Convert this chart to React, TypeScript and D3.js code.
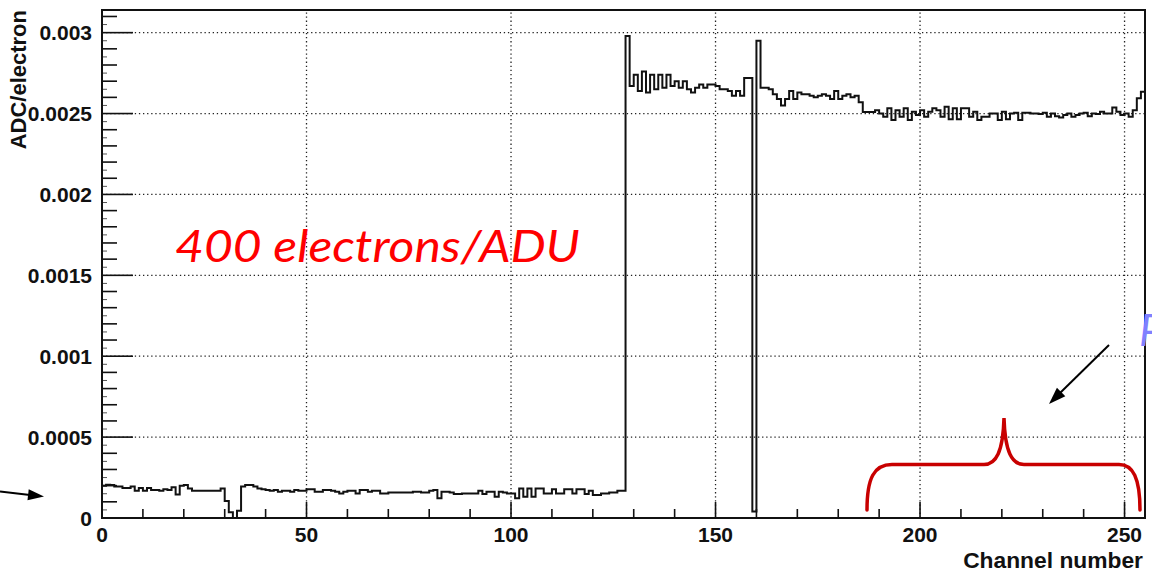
import React from "react";
import * as d3 from "d3";

const W = 1152;
const H = 577;

// Gain per readout channel (ADC counts per electron), one value per channel bin.
const lowGainCh000to063 = [
  0.0002, 0.000205, 0.000204, 0.000194, 0.000194, 0.000185, 0.000185, 0.000194,
  0.000168, 0.000185, 0.000168, 0.000185, 0.000173, 0.000173, 0.000168, 0.000178,
  0.000173, 0.00019, 0.000145, 0.0002, 0.000204, 0.000183, 0.000168, 0.000168,
  0.000168, 0.000168, 0.000168, 0.000168, 0.000168, 0.000183, 0.000105, 0.000035,
  0.0, 0.000045, 0.000194, 0.000204, 0.000204, 0.000194, 0.000183, 0.000178,
  0.000173, 0.000168, 0.000173, 0.000163, 0.000168, 0.000168, 0.000163, 0.000173,
  0.000168, 0.000169, 0.000177, 0.000177, 0.000163, 0.000163, 0.000173, 0.000173,
  0.000169, 0.000163, 0.000152, 0.000163, 0.000169, 0.000169, 0.000152, 0.000173,
];

const lowGainCh064to127 = [
  0.000173, 0.000163, 0.000169, 0.000169, 0.000152, 0.000152, 0.000157, 0.000157,
  0.000157, 0.000157, 0.000157, 0.000157, 0.000163, 0.000163, 0.000157, 0.000157,
  0.000169, 0.000173, 0.000122, 0.000163, 0.000163, 0.000157, 0.000148, 0.000148,
  0.000152, 0.000152, 0.000152, 0.000152, 0.000169, 0.000148, 0.000163, 0.000163,
  0.000132, 0.000163, 0.000157, 0.000152, 0.000152, 0.000122, 0.000183, 0.000132,
  0.000183, 0.000132, 0.000183, 0.000183, 0.000152, 0.000152, 0.000177, 0.000152,
  0.000152, 0.000177, 0.000177, 0.000152, 0.000177, 0.000177, 0.000148, 0.000169,
  0.000142, 0.000142, 0.000152, 0.000152, 0.000157, 0.000157, 0.000169, 0.000169,
];

const highGainCh128to191 = [
  0.00298, 0.00267, 0.00274, 0.00264, 0.00276, 0.00263, 0.00274, 0.00265,
  0.00274, 0.00266, 0.00274, 0.00267, 0.0027, 0.00266, 0.0027, 0.00265,
  0.00263, 0.00266, 0.00268, 0.00266, 0.00268, 0.00268, 0.00267, 0.00265,
  0.00265, 0.00264, 0.00261, 0.00264, 0.00261, 0.00272, 0.00272, 0.00004,
  0.00295, 0.00266, 0.00266, 0.00265, 0.00262, 0.00259, 0.00255, 0.00259,
  0.00264, 0.00259, 0.00263, 0.00262, 0.00262, 0.00261, 0.0026, 0.00261,
  0.00262, 0.00261, 0.00259, 0.00264, 0.00259, 0.00261, 0.00262, 0.0026,
  0.00261, 0.00257, 0.00251, 0.00251, 0.00251, 0.00252, 0.0025, 0.00248,
];

const highGainCh192to254 = [
  0.002532, 0.00246, 0.002521, 0.00248, 0.002532, 0.00246, 0.002511, 0.002491,
  0.002521, 0.00248, 0.002511, 0.002532, 0.002521, 0.00248, 0.002542, 0.002464,
  0.002532, 0.002464, 0.002532, 0.002532, 0.00248, 0.002511, 0.00246, 0.00248,
  0.00248, 0.002501, 0.002501, 0.00246, 0.002511, 0.002464, 0.002501, 0.002505,
  0.00246, 0.002505, 0.002505, 0.002501, 0.002501, 0.002497, 0.002505, 0.00248,
  0.002501, 0.002484, 0.002476, 0.002491, 0.002501, 0.00248, 0.002491, 0.002501,
  0.002505, 0.002484, 0.002501, 0.002497, 0.002511, 0.002501, 0.002501, 0.002538,
  0.002511, 0.002491, 0.002501, 0.00248, 0.002521, 0.002594, 0.002635,
];

const xMajorTicks = [0, 50, 100, 150, 200, 250];
const xTickLabels = ["0", "50", "100", "150", "200", "250"];
const yMajorTicks = [0, 0.0005, 0.001, 0.0015, 0.002, 0.0025, 0.003];
const yTickLabels = ["0", "0.0005", "0.001", "0.0015", "0.002", "0.0025", "0.003"];

const xTitle = "Channel number";
const yTitle = "ADC/electron";
const noteText = "400 electrons/ADU";

const axisFont = "'Liberation Sans', Arial, Helvetica, sans-serif";

export default function App() {
  const gain = [
    ...lowGainCh000to063,
    ...lowGainCh064to127,
    ...highGainCh128to191,
    ...highGainCh192to254,
  ];

  const x = d3.scaleLinear().domain([0, 255]).range([102, 1145]);
  const y = d3.scaleLinear().domain([0, 0.00314]).range([518, 10]);
  const [x0, x1] = x.range();
  const [yb, yt] = y.range();

  // Histogram outline drawn as a step line across channel bins.
  const pts: [number, number][] = [[0, 0]];
  gain.forEach((v, i) => {
    pts.push([i, v]);
    pts.push([i + 1, v]);
  });
  pts.push([gain.length, 0]);
  const histPath = d3
    .line<[number, number]>()
    .x((d) => x(Math.min(d[0], 255)))
    .y((d) => y(d[1]))(pts) as string;

  const xMinor = d3.range(0, 256, 10).filter((v) => v % 50 !== 0);
  const yMinor = d3.range(1, 32).map((k) => k * 0.0001).filter((v, k) => (k + 1) % 5 !== 0);
  const yTiny = d3.range(0, 31).map((k) => k * 0.0001 + 0.00005);

  const arrowHead = (tx: number, ty: number, fx: number, fy: number, len: number, half: number) => {
    const a = Math.atan2(ty - fy, tx - fx);
    const bx = tx - len * Math.cos(a);
    const by = ty - len * Math.sin(a);
    const px = -Math.sin(a) * half;
    const py = Math.cos(a) * half;
    return `${tx},${ty} ${bx + px},${by + py} ${bx - px},${by - py}`;
  };

  return (
    <svg
      width={W}
      height={H}
      style={{ position: "absolute", left: 0, top: 0, background: "#fff", display: "block" }}
    >
      <rect x={0} y={0} width={W} height={H} fill="#fff" />

      {/* grid */}
      <g stroke="#222" strokeWidth={1.3} strokeDasharray="1.3 2.8">
        {xMajorTicks.filter((v) => v > 0).map((v) => (
          <line key={"gx" + v} x1={x(v)} x2={x(v)} y1={yb} y2={yt} />
        ))}
        {yMajorTicks.filter((v) => v > 0).map((v) => (
          <line key={"gy" + v} x1={x0} x2={x1} y1={y(v)} y2={y(v)} />
        ))}
      </g>

      {/* ticks */}
      <g stroke="#111" strokeWidth={1.6}>
        {xMajorTicks.map((v) => (
          <line key={"xt" + v} x1={x(v)} x2={x(v)} y1={yb} y2={yb - 16} />
        ))}
        {xMinor.map((v) => (
          <line key={"xm" + v} x1={x(v)} x2={x(v)} y1={yb} y2={yb - 9} />
        ))}
        {yMajorTicks.map((v) => (
          <line key={"yt" + v} x1={x0} x2={x0 + 31} y1={y(v)} y2={y(v)} />
        ))}
        {yMinor.map((v) => (
          <line key={"ym" + v} x1={x0} x2={x0 + 15} y1={y(v)} y2={y(v)} />
        ))}
      </g>
      <g stroke="#555" strokeWidth={1}>
        {yTiny.map((v) => (
          <line key={"yy" + v} x1={x0} x2={x0 + 5} y1={y(v)} y2={y(v)} />
        ))}
      </g>

      {/* histogram */}
      <path d={histPath} fill="none" stroke="#111" strokeWidth={2} strokeLinejoin="miter" />

      {/* frame */}
      <rect x={x0} y={yt} width={x1 - x0} height={yb - yt} fill="none" stroke="#111" strokeWidth={2} />

      {/* tick labels */}
      <g fontFamily={axisFont} fontWeight="bold" fontSize={21} fill="#111">
        {xMajorTicks.map((v, i) => (
          <text key={"xl" + v} x={x(v)} y={yb + 24} textAnchor="middle">
            {xTickLabels[i]}
          </text>
        ))}
        {yMajorTicks.map((v, i) => (
          <text key={"yl" + v} x={92} y={y(v)} textAnchor="end" dominantBaseline="central">
            {yTickLabels[i]}
          </text>
        ))}
      </g>

      {/* axis titles */}
      <text
        x={1143}
        y={568}
        textAnchor="end"
        fontFamily={axisFont}
        fontWeight="bold"
        fontSize={22.8}
        fill="#111"
      >
        {xTitle}
      </text>
      <text
        transform={`translate(26, ${yt}) rotate(-90)`}
        textAnchor="end"
        fontFamily={axisFont}
        fontWeight="bold"
        fontSize={22}
        fill="#111"
      >
        {yTitle}
      </text>

      {/* annotation */}
      <text
        x={175}
        y={262}
        fontFamily="Lato, 'Open Sans', sans-serif"
        fontStyle="italic"
        fontSize={44}
        fill="#ff0000"
        textLength={405}
        lengthAdjust="spacingAndGlyphs"
      >
        {noteText}
      </text>

      <text x={1139} y={346} fontFamily="Lato, sans-serif" fontStyle="italic" fontSize={44} fill="#8080ff">
        P
      </text>

      {/* arrows */}
      <line x1={0} y1={491.5} x2={30} y2={495} stroke="#000" strokeWidth={2} />
      <polygon points={arrowHead(44, 496.5, 0, 491.5, 16, 5.5)} fill="#000" />
      <line x1={1109} y1={345} x2={1060} y2={393} stroke="#000" strokeWidth={2} />
      <polygon points={arrowHead(1049, 404, 1109, 345, 17, 6)} fill="#000" />

      {/* brace */}
      <path
        d="M867,510 C867,478 874,464.5 892,464.5 L984,464.5 C996,464.5 1003,452 1004,418 C1005,452 1012,464.5 1024,464.5 L1119,464.5 C1133,464.5 1140,478 1140,510"
        fill="none"
        stroke="#c80000"
        strokeWidth={3.5}
        strokeLinecap="round"
      />
    </svg>
  );
}
